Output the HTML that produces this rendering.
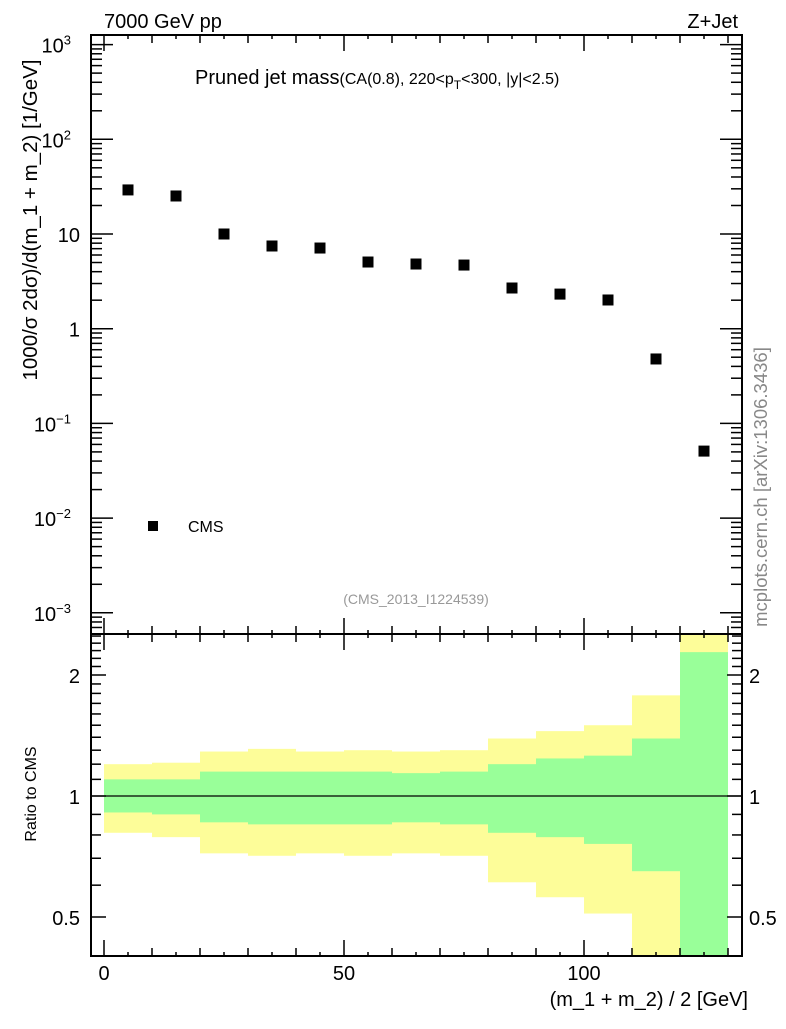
<!DOCTYPE html>
<html><head><meta charset="utf-8"><style>
body{margin:0;background:#fff;}
svg text{font-family:"Liberation Sans",sans-serif;}
</style></head><body>
<svg id="c" width="786" height="1024" xmlns="http://www.w3.org/2000/svg">
<rect width="786" height="1024" fill="#fff"/>
<g id="bands"></g><g id="marks"></g><g id="axes"></g>
<text x="104" y="28" font-size="20">7000 GeV pp</text>
<text x="738" y="28" font-size="20" text-anchor="end">Z+Jet</text>
<text x="195" y="84" font-size="20">Pruned jet mass<tspan font-size="16">(CA(0.8), 220&lt;p</tspan><tspan font-size="12" dy="5">T</tspan><tspan font-size="16" dy="-5">&lt;300, |y|&lt;2.5)</tspan></text>
<text x="416" y="604" font-size="14" fill="#999" text-anchor="middle">(CMS_2013_I1224539)</text>
<rect x="148" y="521" width="10" height="10" fill="#000"/>
<text x="188" y="532" font-size="16">CMS</text>
<text transform="translate(37,220) rotate(-90)" font-size="20.5" text-anchor="middle">1000/σ 2dσ)/d(m_1 + m_2) [1/GeV]</text>
<text transform="translate(36,794) rotate(-90)" font-size="16" text-anchor="middle">Ratio to CMS</text>
<text x="748" y="1006" font-size="20" text-anchor="end">(m_1 + m_2) / 2 [GeV]</text>
<text transform="translate(767,487) rotate(-90)" font-size="18.5" fill="#888" text-anchor="middle">mcplots.cern.ch [arXiv:1306.3436]</text>
</svg>
<script>
const binLo=[0,10,20,30,40,50,60,70,80,90,100,110,120];
const dataVals=[29.2,25.2,10.0,7.47,7.11,5.06,4.82,4.70,2.69,2.32,2.01,0.479,0.051];
const yelHi=[1.20,1.21,1.29,1.31,1.29,1.30,1.29,1.30,1.39,1.45,1.50,1.78,3.0];
const grnHi=[1.10,1.10,1.15,1.15,1.15,1.15,1.14,1.15,1.20,1.24,1.26,1.39,2.28];
const grnLo=[0.91,0.90,0.86,0.85,0.85,0.85,0.86,0.85,0.81,0.79,0.76,0.65,0.3];
const yelLo=[0.81,0.79,0.72,0.71,0.72,0.71,0.72,0.71,0.61,0.56,0.51,0.3,0.3];
const xTicks=[0,50,100];
const ratioTicks=[0.5,1,2];

const NS="http://www.w3.org/2000/svg";
const L=91,R=742,T=35,M=634,B=956;
const X=v=>104+v*4.8;
const Y=v=>234-(Math.log10(v)-1)*94.7;
const RY=v=>{const c=Math.min(Math.max(v,0.4),2.53);return 796-Math.log2(c)*121;};
function mk(tag,attrs,parent){const e=document.createElementNS(NS,tag);for(const k in attrs)e.setAttribute(k,attrs[k]);document.getElementById(parent).appendChild(e);return e;}

binLo.forEach((b,i)=>{
  const x1=X(b),x2=X(b+10);
  let e=mk('rect',{x:x1,y:RY(yelHi[i]),width:x2-x1,height:RY(yelLo[i])-RY(yelHi[i]),fill:'#fdfd99'},'bands');
  
  
  e=mk('rect',{x:x1,y:RY(grnHi[i]),width:x2-x1,height:RY(grnLo[i])-RY(grnHi[i]),fill:'#99ff99'},'bands');
  
  
  e=mk('rect',{x:X(b+5)-5.5,y:Y(dataVals[i])-5.5,width:11,height:11,fill:'#000'},'marks');
  
  
});
let u=mk('line',{x1:L,x2:R,y1:RY(1),y2:RY(1),stroke:'#000','stroke-width':1.3},'marks');



const ax=[];
function ln(x1,y1,x2,y2,w){ax.push(`<line x1="${x1}" y1="${y1}" x2="${x2}" y2="${y2}" stroke="#000" stroke-width="${w||1.5}"/>`);}
ax.push(`<rect x="${L}" y="${T}" width="${R-L}" height="${M-T}" fill="none" stroke="#000" stroke-width="2"/>`);
ax.push(`<rect x="${L}" y="${M}" width="${R-L}" height="${B-M}" fill="none" stroke="#000" stroke-width="2"/>`);
for(let v=0;v<=130;v+=5){const len=v%50==0?16:(v%10==0?8:4);const x=X(v);
  ln(x,T,x,T+len);ln(x,M,x,M-len);ln(x,M,x,M+len);ln(x,B,x,B-len);}
xTicks.forEach(v=>ax.push(`<text x="${X(v)}" y="980" font-size="20" text-anchor="middle">${v}</text>`));
for(let d=-4;d<=3;d++){for(let m=1;m<10;m++){const v=m*Math.pow(10,d);const y=Y(v);if(y<T||y>M)continue;const len=m==1?22:11;ln(L,y,L+len,y);ln(R,y,R-len,y);}}
const lab={3:'10<tspan font-size="13" dy="-8">3</tspan>',2:'10<tspan font-size="13" dy="-8">2</tspan>',1:'10',0:'1',[-1]:'10<tspan font-size="13" dy="-8">−1</tspan>',[-2]:'10<tspan font-size="13" dy="-8">−2</tspan>',[-3]:'10<tspan font-size="13" dy="-8">−3</tspan>'};
for(let d=-3;d<=3;d++){ax.push(`<text x="${d>=2||d<0?71:80}" y="${Y(Math.pow(10,d))+8}" font-size="20" text-anchor="end">${lab[d]}</text>`);}
[0.4,0.5,0.6,0.7,0.8,0.9,1,1.1,1.2,1.3,1.4,1.5,1.6,1.7,1.8,1.9,2,2.1,2.2,2.3,2.4,2.5].forEach(v=>{const y=RY(v);if(y<=M+1||y>=B)return;const len=(v==0.5||v==1||v==2)?15:10;ln(L,y,L+len,y);ln(R,y,R-len,y);});
ratioTicks.forEach(v=>{ax.push(`<text x="80" y="${RY(v)+8}" font-size="20" text-anchor="end">${v}</text>`);ax.push(`<text x="749" y="${RY(v)+8}" font-size="20">${v}</text>`);});
document.getElementById('axes').innerHTML=ax.join('');
</script>
</body></html>
